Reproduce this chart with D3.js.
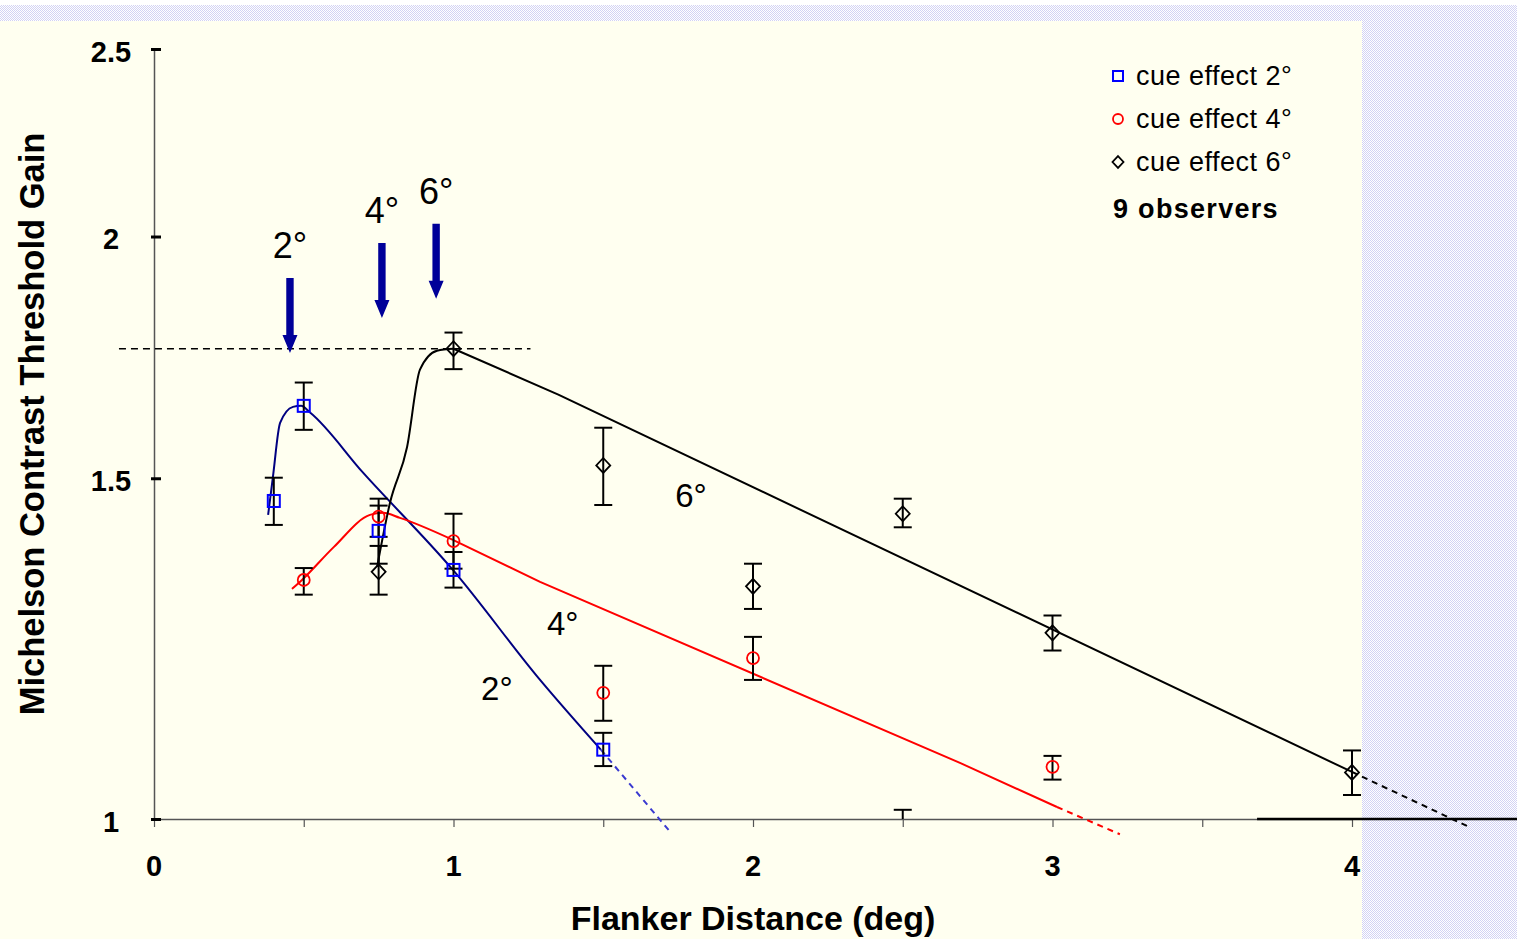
<!DOCTYPE html>
<html>
<head>
<meta charset="utf-8">
<script src="https://cdn.jsdelivr.net/npm/d3@7"></script>
<style>
body { margin: 0; background: #fff; }
svg { display: block; font-family: "Liberation Sans", Arial, sans-serif; }
</style>
</head>
<body>
<svg id="graph" width="1517" height="939"></svg>
<script>
// axes
const xTicks = [0, 0.5, 1, 1.5, 2, 2.5, 3, 3.5, 4];
const xTickLabels = [0, 1, 2, 3, 4];
const yTicks = [1, 1.5, 2, 2.5];

// cue effect 2 deg
const dist2 = [0.4, 0.5, 0.75, 1, 1.5];
const gain2 = [1.460, 1.635, 1.409, 1.345, 1.086];
const hi2 = [1.501, 1.681, 1.452, 1.374, 1.108];
const lo2 = [1.419, 1.589, 1.355, 1.317, 1.065];

// cue effect 4 deg
const dist4 = [0.5, 0.75, 1, 1.5, 2, 3];
const gain4 = [1.329, 1.433, 1.392, 1.162, 1.211, 1.064];
const hi4 = [1.348, 1.464, 1.438, 1.200, 1.242, 1.078];
const lo4 = [1.306, 1.399, 1.347, 1.124, 1.180, 1.048];

// cue effect 6 deg
const dist6 = [0.75, 1, 1.5, 2, 2.5, 3, 4];
const gain6 = [1.342, 1.750, 1.523, 1.319, 1.438, 1.248, 1.057];
const hi6 = [1.384, 1.784, 1.593, 1.355, 1.464, 1.274, 1.085];
const lo6 = [1.306, 1.708, 1.453, 1.284, 1.415, 1.222, 1.029];

// stray error bar cap sitting on the axis at 2.5
const strayBar = { x: 2.5, hi: 1.011 };

// hand drawn fit curves [distance, gain]: curved part, straight part, dashed extension
const fit2 = [[0.381, 1.436], [0.397, 1.502], [0.421, 1.602], [0.464, 1.633], [0.491, 1.635],
              [0.521, 1.622], [0.698, 1.510], [0.998, 1.345], [1.289, 1.180], [1.492, 1.086]];
const ext2 = [[1.492, 1.086], [1.723, 0.985]];
const fit4 = [[0.461, 1.315], [0.494, 1.329], [0.60, 1.382], [0.721, 1.436], [0.765, 1.4395],
              [0.821, 1.431], [0.998, 1.394]];
const line4 = [[0.998, 1.394], [1.289, 1.326], [2.691, 1.069], [3.015, 1.0144]];
const ext4 = [[3.015, 1.0144], [3.225, 0.982]];
const fit6 = [[0.745, 1.350], [0.788, 1.457], [0.845, 1.557], [0.888, 1.707], [0.945, 1.746],
              [1.0, 1.750]];
const line6 = [[1.0, 1.750], [1.35, 1.657], [4.0, 1.0576]];
const ext6 = [[4.0, 1.0576], [4.384, 0.9917]];

// peak reference line and the thick segment on the axis
const refLine = [[-0.117, 1.75], [1.257, 1.75]];
const axisSeg = [[3.683, 1], [4.553, 1]];

// arrows marking the peaks
const arrowLabels = ['2°', '4°', '6°'];
const arrowX = [0.454, 0.761, 0.942];
const arrowTip = [1.741, 1.815, 1.857];

// labels next to the curves
const curveLabels = ['2°', '4°', '6°'];
const curveLabelX = [1.092, 1.312, 1.740];
const curveLabelV = [1.152, 1.245, 1.450];

const legendLabels = ['cue effect 2°', 'cue effect 4°', 'cue effect 6°'];

const svg = d3.select('#graph');
const W = 1517, H = 939;
const panelRight = 1362;

// background: dotted frame + ivory panel
const defs = svg.append('defs');
const pat = defs.append('pattern')
    .attr('id', 'dots')
    .attr('width', 2).attr('height', 2)
    .attr('patternUnits', 'userSpaceOnUse');
pat.append('rect').attr('width', 2).attr('height', 2).attr('fill', '#ffffff');
pat.append('rect').attr('x', 0).attr('y', 0).attr('width', 1).attr('height', 1).attr('fill', '#d2d2f4');
pat.append('rect').attr('x', 1).attr('y', 1).attr('width', 1).attr('height', 1).attr('fill', '#d2d2f4');

svg.append('rect').attr('width', W).attr('height', H).attr('fill', '#fff');
svg.append('rect').attr('x', 0).attr('y', 5).attr('width', W).attr('height', H - 5).attr('fill', 'url(#dots)');
svg.append('rect').attr('x', 0).attr('y', 21).attr('width', panelRight).attr('height', H - 21).attr('fill', '#fffff0');

const x = d3.scaleLinear().domain([0, 4]).range([154, 1352]);
const y = d3.scaleLog().domain([1, 2.5]).range([819, 49]);

// x axis
const xAxis = svg.append('g')
    .attr('transform', `translate(0,${y(1)})`)
    .call(d3.axisBottom(x).tickValues(xTicks).tickSize(8).tickSizeOuter(0).tickFormat(''));
xAxis.select('.domain').attr('stroke', '#555').attr('stroke-width', 1.5);
xAxis.selectAll('.tick line').attr('stroke', '#555').attr('stroke-width', 1.2);

svg.append('g').selectAll('text')
    .data(xTickLabels)
    .enter()
    .append('text')
    .attr('x', d => x(d))
    .attr('y', 876)
    .attr('text-anchor', 'middle')
    .attr('font-weight', 'bold')
    .attr('font-size', '29px')
    .text(d => d);

// y axis
const yAxis = svg.append('g')
    .attr('transform', `translate(${x(0)},0)`)
    .call(d3.axisLeft(y).tickValues(yTicks).tickSize(-7).tickSizeOuter(0).tickFormat(''));
yAxis.select('.domain').attr('stroke', '#555').attr('stroke-width', 1.5);
yAxis.selectAll('.tick line').attr('x1', -3).attr('stroke', '#000').attr('stroke-width', 3);

svg.append('g').selectAll('text')
    .data(yTicks)
    .enter()
    .append('text')
    .attr('x', x(0) - 43)
    .attr('y', d => y(d) + 12.5)
    .attr('text-anchor', 'middle')
    .attr('font-weight', 'bold')
    .attr('font-size', '29px')
    .text(d => d);

// axis titles
svg.append('text')
    .attr('x', (x(0) + x(4)) / 2)
    .attr('y', 930)
    .attr('text-anchor', 'middle')
    .attr('font-weight', 'bold')
    .attr('font-size', '34px')
    .text('Flanker Distance (deg)');

svg.append('text')
    .attr('transform', 'translate(44, 424) rotate(-90)')
    .attr('text-anchor', 'middle')
    .attr('font-weight', 'bold')
    .attr('font-size', '34.5px')
    .text('Michelson Contrast Threshold Gain');

const line = d3.line().x(d => x(d[0])).y(d => y(d[1]));
const curve = d3.line().x(d => x(d[0])).y(d => y(d[1])).curve(d3.curveMonotoneX);

// reference line and axis segment
svg.append('path').attr('d', line(refLine))
    .attr('fill', 'none').attr('stroke', '#000').attr('stroke-width', 1.6).attr('stroke-dasharray', '7,5');
svg.append('path').attr('d', line(axisSeg))
    .attr('fill', 'none').attr('stroke', '#000').attr('stroke-width', 2.5);

// fit curves: smooth part, straight part, dashed extension
const fits = [
    { pts: fit2, straight: null, ext: ext2, col: '#000080', extCol: '#3a3ad0' },
    { pts: fit4, straight: line4, ext: ext4, col: '#ff0000', extCol: '#ff0000' },
    { pts: fit6, straight: line6, ext: ext6, col: '#000000', extCol: '#000000' }
];
fits.forEach(f => {
    svg.append('path').attr('d', curve(f.pts))
        .attr('fill', 'none').attr('stroke', f.col).attr('stroke-width', 2);
    if (f.straight) {
        svg.append('path').attr('d', line(f.straight))
            .attr('fill', 'none').attr('stroke', f.col).attr('stroke-width', 2)
            .attr('stroke-linejoin', 'round');
    }
    svg.append('path').attr('d', line(f.ext))
        .attr('fill', 'none').attr('stroke', f.extCol).attr('stroke-width', 2).attr('stroke-dasharray', '6,5');
});

// error bars
function errorBars(dist, hi, lo) {
    const g = svg.append('g').attr('stroke', '#000').attr('stroke-width', 2);
    dist.forEach((d, i) => {
        g.append('line').attr('x1', x(d)).attr('x2', x(d)).attr('y1', y(hi[i])).attr('y2', y(lo[i]));
        g.append('line').attr('x1', x(d) - 9).attr('x2', x(d) + 9).attr('y1', y(hi[i])).attr('y2', y(hi[i]));
        g.append('line').attr('x1', x(d) - 9).attr('x2', x(d) + 9).attr('y1', y(lo[i])).attr('y2', y(lo[i]));
    });
}
errorBars(dist2, hi2, lo2);
errorBars(dist4, hi4, lo4);
errorBars(dist6, hi6, lo6);

svg.append('line')
    .attr('x1', x(strayBar.x)).attr('x2', x(strayBar.x))
    .attr('y1', y(strayBar.hi)).attr('y2', y(1))
    .attr('stroke', '#000').attr('stroke-width', 2);
svg.append('line')
    .attr('x1', x(strayBar.x) - 9).attr('x2', x(strayBar.x) + 9)
    .attr('y1', y(strayBar.hi)).attr('y2', y(strayBar.hi))
    .attr('stroke', '#000').attr('stroke-width', 2);

// markers
function square(g, cx, cy, s) {
    g.append('rect').attr('x', cx - s).attr('y', cy - s).attr('width', 2 * s).attr('height', 2 * s)
        .attr('fill', 'none').attr('stroke', '#0000ff').attr('stroke-width', 2);
}
function circle(g, cx, cy, r) {
    g.append('circle').attr('cx', cx).attr('cy', cy).attr('r', r)
        .attr('fill', 'none').attr('stroke', '#ff0000').attr('stroke-width', 1.8);
}
function diamond(g, cx, cy, s) {
    g.append('path').attr('d', `M${cx},${cy - s * 1.07}L${cx + s},${cy}L${cx},${cy + s * 1.07}L${cx - s},${cy}Z`)
        .attr('fill', 'none').attr('stroke', '#000').attr('stroke-width', 1.8);
}

const marks = svg.append('g');
dist2.forEach((d, i) => square(marks, x(d), y(gain2[i]), 6));
dist4.forEach((d, i) => circle(marks, x(d), y(gain4[i]), 6));
dist6.forEach((d, i) => diamond(marks, x(d), y(gain6[i]), 7));

// arrows over the peaks
arrowX.forEach((d, i) => {
    const ax = x(d), ty = y(arrowTip[i]);
    svg.append('path')
        .attr('d', `M${ax - 3.7},${ty - 75}L${ax + 3.7},${ty - 75}L${ax + 3.7},${ty - 18}L${ax + 7.5},${ty - 18}` +
                   `L${ax},${ty}L${ax - 7.5},${ty - 18}L${ax - 3.7},${ty - 18}Z`)
        .attr('fill', '#000099');
    svg.append('text')
        .attr('x', ax)
        .attr('y', ty - 95)
        .attr('text-anchor', 'middle')
        .attr('font-size', '36px')
        .text(arrowLabels[i]);
});

// curve labels
curveLabels.forEach((t, i) => {
    svg.append('text')
        .attr('x', x(curveLabelX[i]))
        .attr('y', y(curveLabelV[i]))
        .attr('font-size', '33px')
        .text(t);
});

// legend
const legend = svg.append('g');
const legY = [76, 119, 162];
square(legend, 1118, legY[0], 5);
circle(legend, 1118, legY[1], 5);
diamond(legend, 1118, legY[2], 5.5);
legendLabels.forEach((t, i) => {
    legend.append('text')
        .attr('x', 1136)
        .attr('y', legY[i] + 9)
        .attr('font-size', '27px')
        .attr('letter-spacing', '0.5px')
        .text(t);
});
legend.append('text')
    .attr('x', 1113)
    .attr('y', 218)
    .attr('font-size', '27px')
    .attr('font-weight', 'bold')
    .attr('letter-spacing', '1.3px')
    .text('9 observers');
</script>
</body>
</html>
